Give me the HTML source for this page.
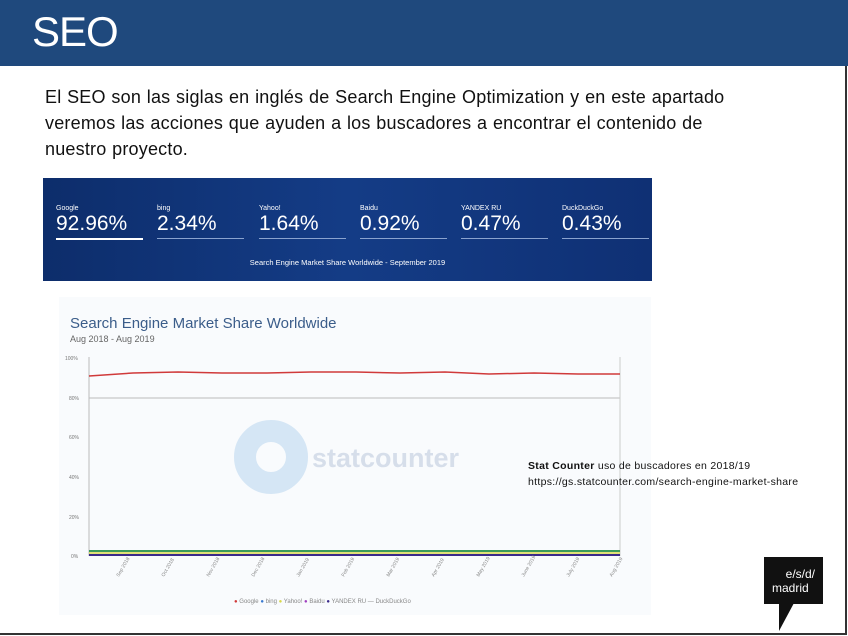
<!DOCTYPE html>
<html><head><meta charset="utf-8"><style>
body{margin:0;width:848px;height:636px;overflow:hidden;background:#fff;font-family:"Liberation Sans",sans-serif;position:relative}
.hdr{position:absolute;left:0;top:0;width:848px;height:66px;background:#1f497d}
.hdr span{position:absolute;left:32px;top:8px;color:#fff;font-size:42px;letter-spacing:-1px}
.frame{position:absolute;left:0;top:66px;width:845px;height:567px;border-right:2px solid #333;border-bottom:2px solid #333}
.txt{position:absolute;left:45px;top:84px;font-size:18px;line-height:26px;color:#111;letter-spacing:0.2px;word-spacing:0.5px}
.ban{position:absolute;left:43px;top:178px;width:609px;height:103px;background:linear-gradient(90deg,#0d2d6b,#143c86 50%,#0f3074)}
.st{position:absolute;top:27px;color:#fff;width:87px;border-bottom:1px solid #8aa3cf}
.st b{display:block;font-size:7px;font-weight:normal}
.st i{display:block;font-style:normal;font-size:21px;font-weight:300;padding-bottom:2px}
.cap{position:absolute;left:0;width:609px;top:80px;text-align:center;color:#fff;font-size:7.5px}
.chart{position:absolute;left:59px;top:297px;width:592px;height:318px;background:#f9fbfd}
.note{position:absolute;left:528px;top:458px;font-size:10.5px;line-height:16px;color:#111;letter-spacing:0.3px}
.logo{position:absolute;left:764px;top:557px;width:59px;height:47px;background:#111;color:#fff;font-size:12px;line-height:14px;text-align:right}
</style></head><body>
<div class="hdr"><span>SEO</span></div>
<div class="frame"></div>
<div class="txt">El SEO son las siglas en inglés de Search Engine Optimization y en este apartado<br>veremos las acciones que ayuden a los buscadores a encontrar el contenido de<br>nuestro proyecto.</div>
<div class="ban">
<div class="st" style="left:13px;border-bottom:2px solid #fff"><b>Google</b><i>92.96%</i></div>
<div class="st" style="left:114px"><b>bing</b><i>2.34%</i></div>
<div class="st" style="left:216px"><b>Yahoo!</b><i>1.64%</i></div>
<div class="st" style="left:317px"><b>Baidu</b><i>0.92%</i></div>
<div class="st" style="left:418px"><b>YANDEX RU</b><i>0.47%</i></div>
<div class="st" style="left:519px"><b>DuckDuckGo</b><i>0.43%</i></div>
<div class="cap">Search Engine Market Share Worldwide - September 2019</div>
</div>
<div class="chart">
<svg width="592" height="318" style="position:absolute;left:0;top:0">
<text x="11" y="31" font-size="15" fill="#3b5d8a" font-family="Liberation Sans">Search Engine Market Share Worldwide</text>
<text x="11" y="45" font-size="9" fill="#666" font-family="Liberation Sans">Aug 2018 - Aug 2019</text>
<g font-size="5" fill="#777" font-family="Liberation Sans">
<text x="6" y="63">100%</text><text x="10" y="103">80%</text><text x="10" y="142">60%</text><text x="10" y="182">40%</text><text x="10" y="222">20%</text><text x="12" y="261">0%</text></g>
<line x1="30" y1="101" x2="561" y2="101" stroke="#bbb"/>
<line x1="30" y1="60" x2="30" y2="259" stroke="#bbb"/>
<line x1="561" y1="60" x2="561" y2="259" stroke="#ccc"/>
<circle cx="212" cy="160" r="26" fill="none" stroke="#d5e6f5" stroke-width="22"/>
<text x="253" y="170" font-size="27" font-weight="bold" fill="#d6deea" font-family="Liberation Sans">statcounter</text>
<polyline points="30,79 74,76 119,75 163,76 208,76 252,75 297,75 341,76 386,75 430,77 475,76 519,77 561,77" fill="none" stroke="#d03a3a" stroke-width="1.5"/>
<line x1="30" y1="254" x2="561" y2="254" stroke="#3a9a5a" stroke-width="2"/>
<line x1="30" y1="256" x2="561" y2="256" stroke="#d8d84a" stroke-width="1.5"/>
<line x1="30" y1="258" x2="561" y2="258" stroke="#3a2a8a" stroke-width="2"/>
<g font-size="5" fill="#888" font-family="Liberation Sans">
<text x="60" y="280" transform="rotate(-60 60 280)">Sep 2018</text><text x="105" y="280" transform="rotate(-60 105 280)">Oct 2018</text><text x="150" y="280" transform="rotate(-60 150 280)">Nov 2018</text><text x="195" y="280" transform="rotate(-60 195 280)">Dec 2018</text><text x="240" y="280" transform="rotate(-60 240 280)">Jan 2019</text><text x="285" y="280" transform="rotate(-60 285 280)">Feb 2019</text><text x="330" y="280" transform="rotate(-60 330 280)">Mar 2019</text><text x="375" y="280" transform="rotate(-60 375 280)">Apr 2019</text><text x="420" y="280" transform="rotate(-60 420 280)">May 2019</text><text x="465" y="280" transform="rotate(-60 465 280)">June 2019</text><text x="510" y="280" transform="rotate(-60 510 280)">July 2019</text><text x="553" y="280" transform="rotate(-60 553 280)">Aug 2019</text></g>
<g font-size="6" fill="#888" font-family="Liberation Sans"><text x="175" y="306"><tspan fill="#d03a3a">●</tspan> Google  <tspan fill="#3a7ad0">●</tspan> bing  <tspan fill="#d8d84a">●</tspan> Yahoo!  <tspan fill="#a040c0">●</tspan> Baidu  <tspan fill="#3a2a8a">●</tspan> YANDEX RU  — DuckDuckGo</text></g>
</svg>
</div>
<div class="note"><b>Stat Counter</b> uso de buscadores en 2018/19<br>https://gs.statcounter.com/search-engine-market-share</div>
<div class="logo"><div style="padding:10px 8px 0 0">e/s/d/</div><div style="text-align:left;padding-left:8px">madrid</div></div>
<svg width="20" height="30" style="position:absolute;left:774px;top:603px"><polygon points="5,0 20,0 5,28" fill="#111"/></svg>
</body></html>
